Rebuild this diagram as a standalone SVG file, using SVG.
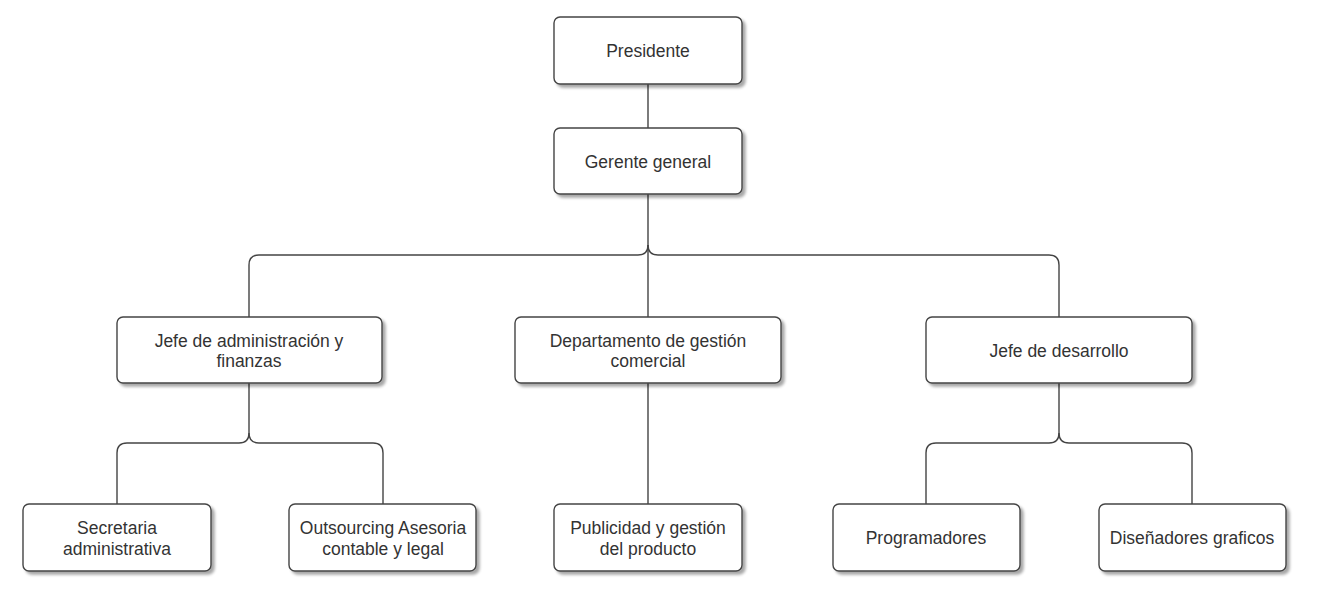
<svg xmlns="http://www.w3.org/2000/svg" width="1338" height="591" viewBox="0 0 1338 591">
<defs>
<filter id="sh" x="-10%" y="-20%" width="130%" height="150%">
<feGaussianBlur in="SourceAlpha" stdDeviation="1.8"/>
<feOffset dx="3" dy="3" result="b"/>
<feComponentTransfer><feFuncA type="linear" slope="0.35"/></feComponentTransfer>
<feMerge><feMergeNode/><feMergeNode in="SourceGraphic"/></feMerge>
</filter>
</defs>
<style>
.box{fill:#fff;stroke:#444;stroke-width:1.4;filter:url(#sh)}
.t{font-family:"Liberation Sans",Arial,sans-serif;font-size:17.5px;fill:#333;text-anchor:middle}
.c{fill:none;stroke:#444;stroke-width:1.4}
</style>
<rect width="1338" height="591" fill="#fff"/>
<g id="connectors">
<path class="c" d="M648 84 V128"/>
<path class="c" d="M648 194 V383"/>
<path class="c" d="M648 245 Q648 255 638 255 H259 Q249 255 249 265 V317"/>
<path class="c" d="M648 245 Q648 255 658 255 H1049 Q1059 255 1059 265 V317"/>
<path class="c" d="M648 383 V504"/>
<path class="c" d="M249 383 V433 Q249 443 239 443 H127 Q117 443 117 453 V504"/>
<path class="c" d="M249 433 Q249 443 259 443 H373 Q383 443 383 453 V504"/>
<path class="c" d="M1059 383 V433 Q1059 443 1049 443 H936 Q926 443 926 453 V504"/>
<path class="c" d="M1059 433 Q1059 443 1069 443 H1182 Q1192 443 1192 453 V504"/>
</g>
<g id="presidente"><rect class="box" x="554" y="17" width="188" height="67" rx="6"/><text class="t" x="648" y="57">Presidente</text></g>
<g id="gerente"><rect class="box" x="554" y="128" width="188" height="66" rx="6"/><text class="t" x="648" y="168">Gerente general</text></g>
<g id="jefe-admin"><rect class="box" x="117" y="317" width="265" height="66" rx="6"/><text class="t" x="249" y="347">Jefe de administración y</text><text class="t" x="249" y="367">finanzas</text></g>
<g id="depto-comercial"><rect class="box" x="515" y="317" width="266" height="66" rx="6"/><text class="t" x="648" y="347">Departamento de gestión</text><text class="t" x="648" y="367">comercial</text></g>
<g id="jefe-desarrollo"><rect class="box" x="926" y="317" width="266" height="66" rx="6"/><text class="t" x="1059" y="357">Jefe de desarrollo</text></g>
<g id="secretaria"><rect class="box" x="23" y="504" width="188" height="67" rx="6"/><text class="t" x="117" y="534">Secretaria</text><text class="t" x="117" y="555">administrativa</text></g>
<g id="outsourcing"><rect class="box" x="289" y="504" width="187" height="67" rx="6"/><text class="t" x="383" y="534">Outsourcing Asesoria</text><text class="t" x="383" y="555">contable y legal</text></g>
<g id="publicidad"><rect class="box" x="554" y="504" width="188" height="67" rx="6"/><text class="t" x="648" y="534">Publicidad y gestión</text><text class="t" x="648" y="555">del producto</text></g>
<g id="programadores"><rect class="box" x="833" y="504" width="187" height="67" rx="6"/><text class="t" x="926" y="544">Programadores</text></g>
<g id="disenadores"><rect class="box" x="1099" y="504" width="187" height="67" rx="6"/><text class="t" x="1192" y="544">Diseñadores graficos</text></g>
</svg>
